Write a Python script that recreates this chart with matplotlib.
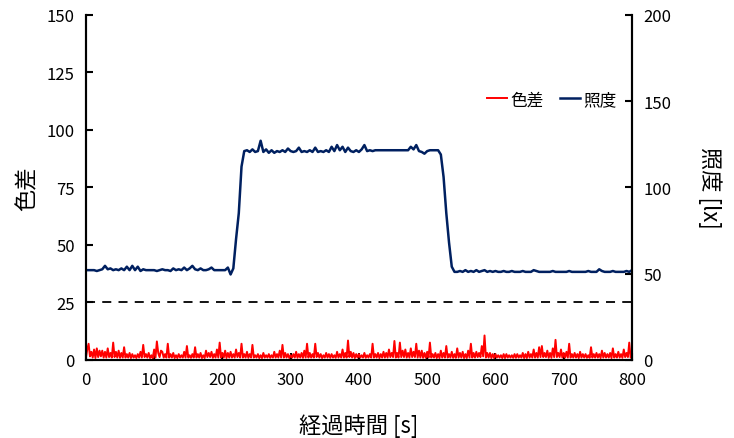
import numpy as np
import matplotlib
matplotlib.use('Agg')
import matplotlib.pyplot as plt

plt.rcParams['font.family'] = ['Noto Sans CJK JP', 'DejaVu Sans']

#Time axes (s): color difference every 2 s, illuminance every 4 s
time_cd = np.arange(0, 801, 2)
time_lx = np.arange(0, 801, 4)

#Color difference (left axis)
color_diff = [
    1.0, 4.5, 7.0, 1.5, 3.5, 1.0, 4.5, 0.8, 5.0, 1.2, 4.0, 1.5, 4.0, 1.0, 3.5, 1.0, 5.0, 1.2, 3.0, 1.0,
    7.5, 1.2, 3.5, 1.0, 4.0, 0.9, 3.0, 1.0, 5.5, 1.0, 2.5, 1.0, 3.0, 0.8, 2.5, 1.0, 2.0, 0.8, 2.5, 1.0,
    3.5, 1.0, 6.5, 1.2, 2.5, 1.0, 3.0, 0.8, 2.0, 0.7, 4.5, 1.0, 8.0, 3.0, 1.2, 4.0, 3.5, 1.0, 2.5, 1.0,
    7.0, 1.0, 2.5, 1.0, 3.0, 0.8, 2.0, 0.8, 2.5, 1.0, 2.0, 1.0, 3.5, 1.0, 6.0, 1.0, 2.0, 0.9, 2.5, 1.0,
    5.5, 1.0, 2.5, 1.0, 3.0, 0.8, 2.0, 0.8, 4.0, 1.2, 3.0, 1.2, 3.5, 0.9, 2.5, 1.0, 4.5, 1.0, 7.5, 1.0,
    3.0, 1.0, 4.0, 0.8, 3.0, 1.0, 3.5, 1.0, 2.5, 1.0, 4.5, 1.2, 3.0, 1.0, 7.0, 1.0, 2.5, 1.0, 3.5, 0.9,
    2.5, 1.0, 6.5, 1.0, 2.0, 1.0, 2.5, 0.8, 2.0, 0.8, 3.0, 1.0, 2.0, 1.0, 2.5, 0.9, 2.0, 1.0, 3.5, 1.0,
    2.5, 1.0, 4.0, 1.0, 6.5, 1.0, 3.0, 1.0, 2.5, 0.8, 2.0, 1.0, 2.5, 1.0, 3.5, 0.9, 2.5, 1.0, 3.0, 0.9,
    4.0, 1.0, 7.0, 1.0, 3.0, 1.0, 2.5, 1.0, 7.0, 1.2, 3.0, 1.0, 2.5, 0.8, 2.0, 1.0, 3.0, 1.0, 2.5, 0.9,
    2.5, 1.0, 2.0, 0.9, 3.5, 1.0, 2.5, 1.0, 4.5, 1.0, 3.0, 1.0, 8.4, 1.2, 3.5, 1.0, 3.0, 0.8, 2.5, 1.0,
    2.5, 1.0, 2.0, 1.0, 3.0, 0.9, 2.0, 1.0, 2.5, 1.0, 7.0, 1.0, 2.5, 1.0, 3.0, 0.8, 2.5, 1.0, 3.5, 1.0,
    3.0, 1.0, 4.5, 1.2, 3.0, 1.2, 8.2, 1.0, 3.0, 1.0, 7.5, 1.2, 4.0, 1.2, 4.5, 1.0, 3.0, 1.0, 5.0, 1.2,
    3.5, 1.2, 7.0, 1.0, 4.0, 1.0, 4.0, 0.9, 3.0, 0.9, 3.5, 1.0, 7.5, 1.0, 2.5, 1.0, 3.0, 0.8, 2.5, 0.8,
    4.0, 1.0, 3.0, 1.0, 6.0, 1.0, 2.5, 1.0, 3.5, 0.9, 2.5, 0.9, 5.0, 1.0, 3.0, 1.0, 3.5, 0.8, 2.5, 0.8,
    4.0, 1.0, 7.0, 1.0, 3.0, 1.0, 3.5, 1.2, 3.0, 1.2, 6.0, 1.5, 10.6, 1.0, 3.0, 1.0, 3.0, 0.8, 2.5, 0.8,
    2.5, 1.0, 2.0, 1.0, 2.0, 0.8, 2.5, 0.8, 2.5, 1.0, 2.0, 1.0, 2.0, 0.9, 2.5, 0.9, 2.5, 1.0, 2.0, 1.0,
    3.0, 0.8, 2.5, 0.8, 3.5, 1.0, 2.5, 1.0, 4.5, 1.0, 3.0, 1.0, 5.5, 1.2, 6.0, 1.2, 3.0, 1.2, 4.0, 0.9,
    3.0, 0.9, 5.0, 1.2, 8.7, 1.2, 3.0, 1.2, 4.5, 1.0, 3.0, 1.0, 3.5, 1.0, 7.0, 1.0, 2.5, 1.0, 3.0, 1.0,
    2.5, 0.8, 3.5, 1.0, 2.5, 1.0, 2.5, 0.9, 2.0, 0.9, 5.5, 1.0, 2.5, 1.0, 3.0, 1.0, 2.5, 0.8, 4.0, 1.0,
    3.0, 1.0, 2.5, 1.0, 3.0, 0.8, 5.0, 1.0, 2.5, 1.0, 3.5, 1.0, 2.5, 0.9, 4.5, 1.2, 3.0, 1.2, 7.5, 1.0,
    1.0,
]

#Illuminance in lx (right axis)
illuminance = [
    52.0, 52.0, 52.0, 52.0, 51.5, 52.0, 52.5, 54.5, 52.5, 53.0,
    52.0, 52.5, 52.0, 53.0, 52.0, 54.0, 52.0, 54.5, 52.0, 54.0,
    51.5, 52.5, 52.0, 52.0, 52.0, 52.0, 51.5, 52.0, 52.5, 52.0,
    52.0, 51.5, 53.0, 52.0, 52.5, 52.0, 53.5, 52.0, 53.0, 54.5,
    52.5, 52.0, 53.0, 52.0, 52.0, 52.5, 53.5, 52.0, 52.0, 52.0,
    52.0, 52.0, 53.5, 49.5, 53.0, 70.0, 85.0, 112.0, 121.0, 121.5,
    120.5, 122.0, 120.5, 121.0, 127.0, 120.5, 122.0, 120.0, 121.5, 120.0,
    121.0, 120.5, 121.5, 120.5, 122.5, 121.0, 120.5, 121.0, 123.0, 120.5,
    121.0, 120.5, 121.5, 120.5, 123.0, 120.5, 121.0, 120.5, 121.5, 120.5,
    123.5, 121.0, 124.5, 121.5, 123.5, 120.5, 123.0, 121.0, 120.5, 121.5,
    120.5, 122.0, 124.5, 121.0, 121.5, 121.0, 121.5, 121.5, 121.5, 121.5,
    121.5, 121.5, 121.5, 121.5, 121.5, 121.5, 121.5, 121.5, 121.5, 123.5,
    122.0, 124.5, 121.0, 120.5, 119.5, 121.0, 121.5, 121.5, 121.5, 121.5,
    119.0, 106.0, 85.0, 68.0, 54.0, 51.0, 51.0, 51.5, 51.0, 52.0,
    51.0, 51.5, 51.0, 52.0, 51.0, 51.5, 52.0, 51.0, 51.5, 51.0,
    51.5, 51.0, 51.0, 51.5, 51.0, 51.0, 51.5, 51.0, 51.0, 51.0,
    51.5, 51.0, 51.0, 51.0, 52.0, 51.5, 51.0, 51.0, 51.0, 51.0,
    51.0, 51.5, 51.0, 51.0, 51.0, 51.0, 51.0, 51.5, 51.0, 51.0,
    51.0, 51.0, 51.0, 51.0, 51.5, 51.0, 51.0, 51.0, 52.5, 51.5,
    51.0, 51.0, 51.0, 51.5, 51.0, 51.0, 51.0, 51.0, 51.5, 51.0,
    52.0,
]

threshold = 25

fig = plt.figure(figsize=(7.34, 4.39), dpi=100)
ax = fig.add_axes([0.117, 0.178, 0.744, 0.786])
ax2 = ax.twinx()

l1, = ax.plot(time_cd, color_diff, color='#ff0000', lw=1.4, label='色差')
ax.axhline(threshold, color='black', lw=1.3, ls=(0, (5, 4)))
l2, = ax2.plot(time_lx, illuminance, color='#002060', lw=1.8, label='照度')

ax.set_xlim(0, 800)
ax.set_ylim(0, 150)
ax2.set_ylim(0, 200)
ax.set_xticks(range(0, 801, 100))
ax.set_yticks(range(0, 151, 25))
ax2.set_yticks(range(0, 201, 50))

for a in (ax, ax2):
    a.spines['top'].set_visible(False)
    for s in a.spines.values():
        s.set_linewidth(1.5)
    a.tick_params(direction='in', length=5, width=1.5, labelsize=12)
ax.tick_params(axis='x', pad=8)
ax.tick_params(axis='y', pad=8)
ax2.tick_params(axis='y', pad=8)

ax.set_xlabel('経過時間 [s]', size=16, labelpad=18)
ax.set_ylabel('色差', size=16, labelpad=6)
ax2.set_ylabel('照度 [lx]', size=16, rotation=270, labelpad=36)

ax.legend(handles=[l1, l2], loc='center right', bbox_to_anchor=(1.0, 0.754),
          ncol=2, frameon=False, fontsize=12, handlelength=1.2,
          handletextpad=0.2, columnspacing=1.0)

plt.savefig('out.png', dpi=100)
